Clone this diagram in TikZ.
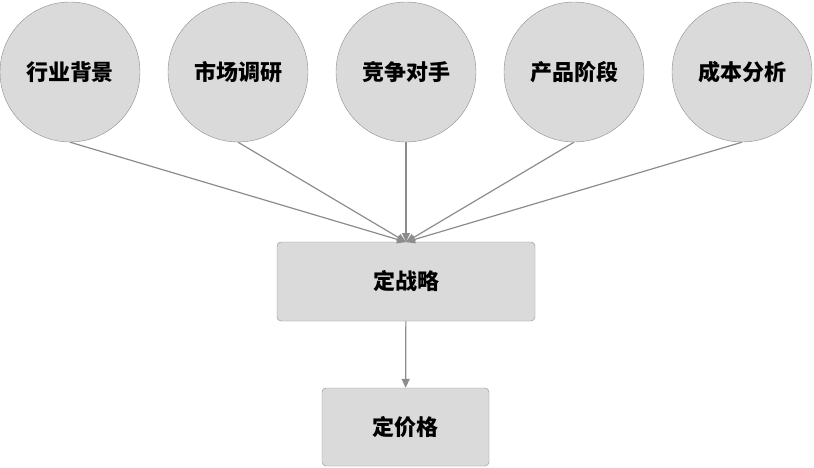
\documentclass[tikz,border=0pt]{standalone}
\usepackage{fontspec}
\setmainfont{Noto Sans CJK SC}
\usetikzlibrary{arrows.meta}
\definecolor{fillg}{HTML}{DADADA}
\definecolor{lineg}{HTML}{8C8C8C}
\begin{document}
\begin{tikzpicture}[x=1pt,y=-1pt,
  circ/.style={circle,draw=lineg,fill=fillg,minimum size=140pt,inner sep=0pt,font=\fontsize{22}{26}\selectfont\bfseries},
  boxn/.style={draw=lineg,fill=fillg,rounded corners=4pt,font=\fontsize{22}{26}\selectfont\bfseries,inner sep=0pt},
  conn/.style={draw=lineg,line width=1.2pt,-{Triangle[length=9pt,width=8pt]}}]
\useasboundingbox (0,0) rectangle (814,468);
\node[circ] (a) at (70,72) {行业背景};
\node[circ] (b) at (238,72) {市场调研};
\node[circ] (c) at (406,72) {竞争对手};
\node[circ] (d) at (574,72) {产品阶段};
\node[circ] (e) at (742,72) {成本分析};
\node[boxn,minimum width=258pt,minimum height=79pt] (s) at (406,281.5) {定战略};
\node[boxn,minimum width=167pt,minimum height=78pt] (p) at (405.5,427) {定价格};
\coordinate (t) at (406,242);
\foreach \n in {a,b,c,d,e} \draw[conn] (\n.south) -- (t);
\draw[conn] (s) -- (p);
\end{tikzpicture}
\end{document}
